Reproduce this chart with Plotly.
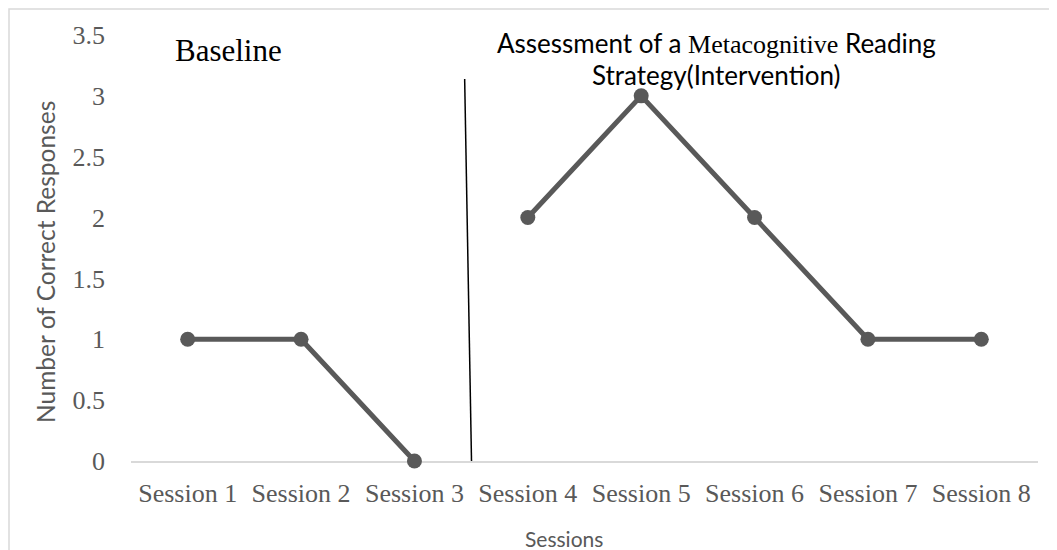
import plotly.graph_objects as go

sessions = ["Session 1", "Session 2", "Session 3", "Session 4",
            "Session 5", "Session 6", "Session 7", "Session 8"]
correct = [1, 1, 0, 2, 3, 2, 1, 1]
baseline_count = 3  # first three sessions are baseline, rest intervention
y_ticks = [0, 0.5, 1, 1.5, 2, 2.5, 3, 3.5]

# page offset of the figure (browser body margin)
OFF = 8
PL, PR, PT, PB = 131 - OFF, 1038 - OFF, 35 - OFF, 461 - OFF
W, H = 1057 - OFF, 550 - OFF
PW, PH = PR - PL, PB - PT


def px(xp):
    return (xp - OFF - PL) / PW


def py(yp):
    return (PB - (yp - OFF)) / PH


idx = list(range(len(sessions)))
fig = go.Figure()
for xs, ys in [(idx[:baseline_count], correct[:baseline_count]),
               (idx[baseline_count:], correct[baseline_count:])]:
    fig.add_trace(go.Scatter(
        x=xs, y=ys, mode="lines+markers",
        line=dict(color="#595959", width=5),
        marker=dict(color="#595959", size=15),
        cliponaxis=False, showlegend=False, hoverinfo="skip"))

fig.update_layout(
    width=W, height=H,
    margin=dict(l=PL, r=W - PR, t=PT, b=H - PB),
    paper_bgcolor="white", plot_bgcolor="white",
    xaxis=dict(range=[-0.5, 7.5], tickmode="array",
               tickvals=idx, ticktext=sessions,
               showgrid=False, zeroline=False, showline=True,
               linecolor="#d9d9d9", linewidth=1.5, ticks="",
               layer="below traces",
               ticklabelstandoff=8,
               tickfont=dict(family="Liberation Serif", size=26, color="#595959")),
    yaxis=dict(range=[0, 3.5], tickmode="array", tickvals=y_ticks,
               ticktext=[("%g" % v) for v in y_ticks],
               showgrid=False, zeroline=False, showline=False, ticks="",
               layer="below traces",
               ticklabelstandoff=25,
               tickfont=dict(family="Liberation Serif", size=26, color="#595959")),
)

# outer chart border
fig.add_shape(type="rect", xref="paper", yref="paper",
              x0=px(9), x1=px(1050), y0=py(600), y1=py(9),
              line=dict(color="#d9d9d9", width=1.5), fillcolor="rgba(0,0,0,0)",
              layer="below")

# phase change line
fig.add_shape(type="line", xref="x", yref="y",
              x0=2.443, y0=3.139, x1=2.504, y1=-0.033,
              line=dict(color="black", width=1.5))

fig.add_annotation(text="Baseline", xref="paper", yref="paper",
                   x=px(228), y=py(51), showarrow=False,
                   xanchor="center", yanchor="middle",
                   font=dict(family="Liberation Serif", size=31, color="black"))
fig.add_annotation(
    text="Assessment of a <span style='font-family:Liberation Serif'>Metacognitive</span> Reading",
    xref="paper", yref="paper", x=px(716), y=py(43),
    showarrow=False, xanchor="center", yanchor="middle",
    font=dict(family="Lato", size=26, color="black"))
fig.add_annotation(
    text="Strategy(Intervention)",
    xref="paper", yref="paper", x=px(716), y=py(75),
    showarrow=False, xanchor="center", yanchor="middle",
    font=dict(family="Lato", size=26, color="black"))

fig.add_annotation(text="Number of Correct Responses", xref="paper", yref="paper",
                   x=px(45), y=py(262), showarrow=False,
                   textangle=-90, xanchor="center", yanchor="middle",
                   font=dict(family="Lato", size=24.5, color="#595959"))
fig.add_annotation(text="Sessions", xref="paper", yref="paper",
                   x=px(564), y=py(538), showarrow=False,
                   xanchor="center", yanchor="middle",
                   font=dict(family="Lato", size=21, color="#595959"))

fig.write_html("out.html")
